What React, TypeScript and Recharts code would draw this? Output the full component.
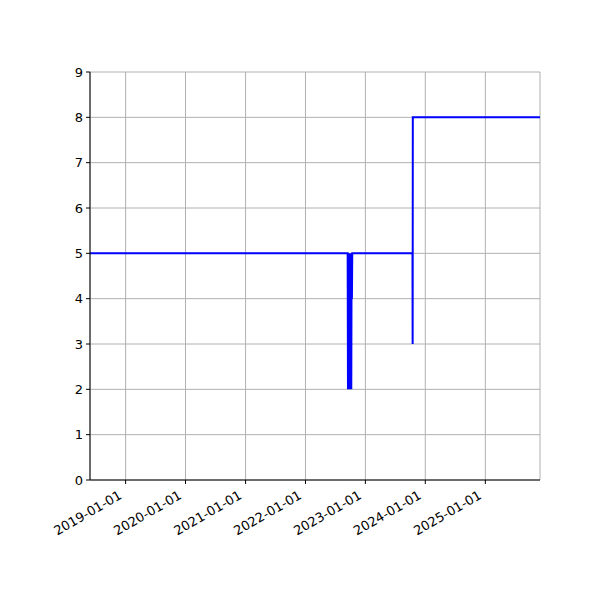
import { LineChart, Line, XAxis, YAxis, CartesianGrid } from "recharts";

const dates: string[] = [
  "2018-05-29",
  "2022-09-15",
  "2022-09-17",
  "2022-09-19",
  "2022-09-21",
  "2022-09-23",
  "2022-09-25",
  "2022-09-27",
  "2022-09-29",
  "2022-10-01",
  "2022-10-03",
  "2022-10-05",
  "2022-10-07",
  "2022-10-09",
  "2022-10-11",
  "2022-10-13",
  "2023-10-15",
  "2023-10-16",
  "2023-10-17",
  "2025-11-30",
];
const values: number[] = [5, 5, 2, 5, 2, 5, 2, 5, 2, 5, 2, 5, 2, 5, 4, 5, 5, 3, 8, 8];

const yearTicks: string[] = [
  "2019-01-01",
  "2020-01-01",
  "2021-01-01",
  "2022-01-01",
  "2023-01-01",
  "2024-01-01",
  "2025-01-01",
];
const yTicks: number[] = [0, 1, 2, 3, 4, 5, 6, 7, 8, 9];

const xStart = "2018-05-29";
const xEnd = "2025-11-30";

const data = dates.map((d, i) => ({ t: Date.parse(d), v: values[i] }));

const fmt = (t: number) => new Date(t).toISOString().slice(0, 10);

const DateTick = (props: any) => {
  const { x, y, payload } = props;
  return (
    <g transform={`translate(${x - 7},${y + 5})`}>
      <text
        x={0}
        y={0}
        dy={8}
        textAnchor="end"
        fill="#000"
        fontSize={13}
        transform="rotate(-30)"
      >
        {fmt(payload.value)}
      </text>
    </g>
  );
};

const font = "DejaVu Sans, sans-serif";

const App = () => {
  return (
    <div style={{ position: "absolute", left: 0, top: 0, fontFamily: font }}>
      <LineChart
        width={600}
        height={600}
        data={data}
        margin={{ top: 72, right: 60, bottom: 40, left: 40 }}
      >
        <CartesianGrid stroke="#b0b0b0" strokeWidth={1} />
        <XAxis
          dataKey="t"
          type="number"
          scale="time"
          domain={[Date.parse(xStart), Date.parse(xEnd)]}
          ticks={yearTicks.map((d) => Date.parse(d))}
          tick={<DateTick />}
          interval={0}
          height={80}
          tickSize={4}
          axisLine={{ stroke: "#000" }}
          tickLine={{ stroke: "#000" }}
          allowDataOverflow
        />
        <XAxis
          xAxisId="top"
          orientation="top"
          dataKey="t"
          type="number"
          domain={[Date.parse(xStart), Date.parse(xEnd)]}
          tick={false}
          tickLine={false}
          height={0}
          axisLine={{ stroke: "#000" }}
        />
        <YAxis
          type="number"
          domain={[0, 9]}
          ticks={yTicks}
          interval={0}
          width={50}
          tickSize={4}
          tickMargin={3}
          tick={{ fill: "#000", fontSize: 13 }}
          axisLine={{ stroke: "#000" }}
          tickLine={{ stroke: "#000" }}
        />
        <YAxis
          yAxisId="right"
          orientation="right"
          domain={[0, 9]}
          tick={false}
          tickLine={false}
          width={0}
          axisLine={{ stroke: "#000" }}
        />
        <Line
          type="linear"
          dataKey="v"
          stroke="#0000ff"
          strokeWidth={2}
          dot={false}
          isAnimationActive={false}
        />
      </LineChart>
    </div>
  );
};

export default App;
